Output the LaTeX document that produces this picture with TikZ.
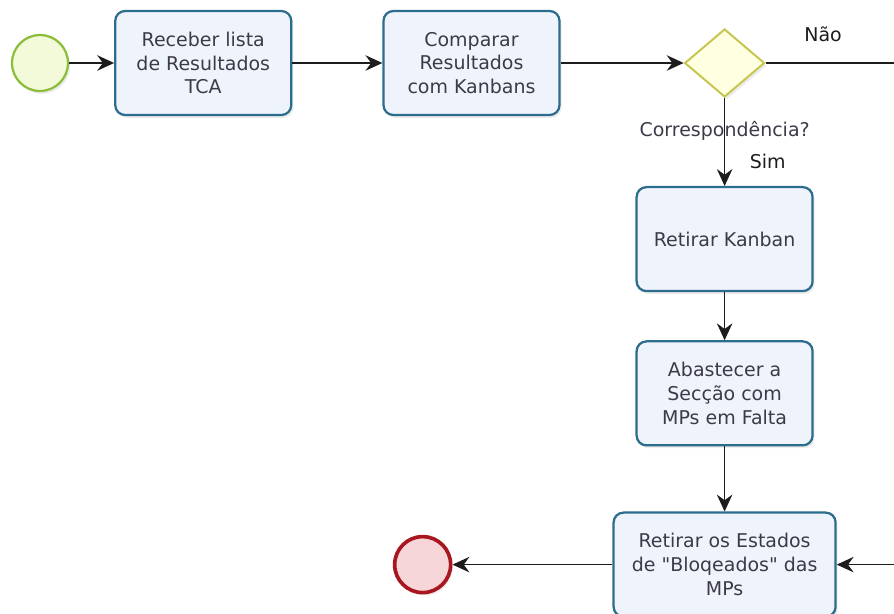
\documentclass[tikz,border=0pt]{standalone}
\usepackage{fontspec}
\newfontfamily\bpmnfont{DejaVu Sans}
\usepackage{xcolor}
\usetikzlibrary{arrows.meta, positioning, shapes, shadows}

\definecolor{taskline}{RGB}{44,108,140}
\definecolor{taskfill}{RGB}{239,244,252}
\definecolor{txtgray}{RGB}{60,58,72}
\definecolor{flowline}{RGB}{28,28,28}
\definecolor{startline}{RGB}{140,190,60}
\definecolor{startfill}{RGB}{242,250,218}
\definecolor{endline}{RGB}{168,22,32}
\definecolor{endfill}{RGB}{246,214,216}
\definecolor{gateline}{RGB}{198,198,78}
\definecolor{gatefill}{RGB}{255,255,226}

\begin{document}
\begin{tikzpicture}[line width=1.2pt, node distance=2cm,
        every node/.style={align=center, font=\bpmnfont\fontsize{13.5}{17}\selectfont, text=txtgray},
        soft/.style={drop shadow={opacity=0.15, shadow xshift=1.5pt, shadow yshift=-2pt}},
        task/.style={draw=taskline, line width=1.6pt, rectangle, rounded corners=7pt, fill=taskfill, minimum width=4.4cm, minimum height=2.6cm, inner sep=2pt, soft},
        startev/.style={draw=startline, line width=1.6pt, circle, fill=startfill, minimum size=1.4cm, soft},
        endev/.style={draw=endline, line width=2.6pt, circle, fill=endfill, minimum size=1.4cm, soft},
        gateway/.style={draw=gateline, line width=1.4pt, diamond, fill=gatefill, minimum width=2cm, minimum height=1.7cm, inner sep=0pt, soft},
        flow/.style={draw=flowline, -{Stealth[length=12pt, width=11pt, inset=4pt]}},
        tag/.style={text=flowline}]
        \useasboundingbox (0,0) rectangle (22.35,-15.325);
        \coordinate (rim) at (22.6,0);

        \node (start) [startev] at (1.0,-1.575) {};
        \node (receive) [task, right=1.125cm of start] {Receber lista\\de Resultados\\TCA};
        \node (compare) [task, right=2.25cm of receive] {Comparar\\Resultados\\com Kanbans};
        \node (match) [gateway, right=3.075cm of compare] {};
        \node (pull) [task, below=2.2cm of match] {Retirar Kanban};
        \node (supply) [task, below=1.2cm of pull] {Abastecer a\\Secção com\\MPs em Falta};
        \node (unblock) [task, minimum width=5.55cm, below=1.625cm of supply] {Retirar os Estados\\de "Bloqeados" das\\MPs};
        \node (finish) [endev, left=4cm of unblock] {};
        \node (ask) [below=0.45cm of match] {Correspondência?};

        \draw[flow] (start) -- (receive);
        \draw[flow] (receive) -- (compare);
        \draw[flow] (compare) -- (match);
        \draw[flow] (match) -- node[pos=0.72, right=14pt, tag] (yeslbl) {Sim} (pull);
        \draw[flow] (pull) -- (supply);
        \draw[flow] (supply) -- (unblock);
        \draw[flow] (unblock) -- (finish);
        \draw[flow] (match.east) -- node[pos=0.415, above=11pt, tag] (nolbl) {Não} (match -| rim)
            -- (unblock -| rim) -- (unblock.east);
    \end{tikzpicture}
\end{document}
